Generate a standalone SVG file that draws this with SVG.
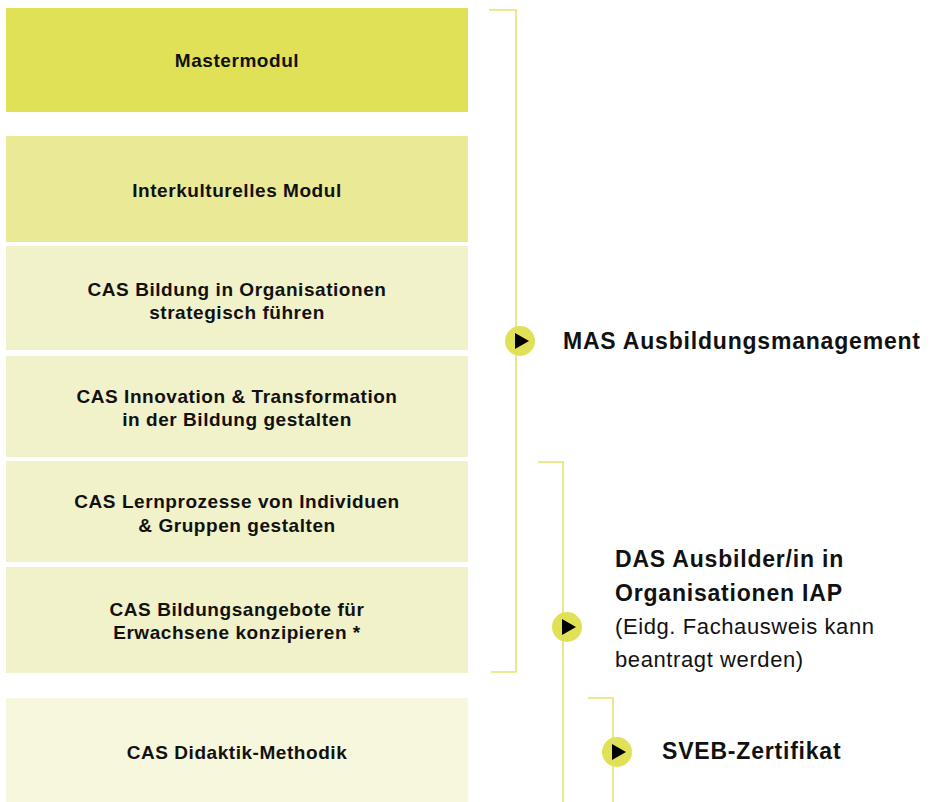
<svg xmlns="http://www.w3.org/2000/svg" width="931" height="802" viewBox="0 0 931 802">
<style>
.b{font-family:"Liberation Sans",Arial,sans-serif;font-weight:bold;font-size:19px;letter-spacing:0.55px;fill:#111;text-anchor:middle}
.r{font-family:"Liberation Sans",Arial,sans-serif;font-weight:bold;font-size:23px;letter-spacing:0.8px;fill:#111}
.rn{font-family:"Liberation Sans",Arial,sans-serif;font-size:22px;letter-spacing:0.6px;fill:#111}
.ln{fill:none;stroke:#e3e36b;stroke-width:1.6}
.dot{fill:#e1e157}
.tri{fill:#000}
</style>
<rect width="931" height="802" fill="#fff"/>
<g id="connectors">
<path class="ln" d="M489 10 H516 V672 H491"/>
<path class="ln" d="M538 462 H563 V802"/>
<path class="ln" d="M588 698 H613 V802"/>
</g>
<g id="mastermodul"><rect x="6" y="8" width="462" height="104" fill="#e1e157"/><text class="b" x="237" y="67">Mastermodul</text></g>
<g id="interkulturell"><rect x="6" y="136" width="462" height="106" fill="#e9e996"/><text class="b" x="237" y="197">Interkulturelles Modul</text></g>
<g id="cas1"><rect x="6" y="246" width="462" height="104" fill="#f1f2ca"/><text class="b" x="237" y="296">CAS Bildung in Organisationen</text><text class="b" x="237" y="319">strategisch führen</text></g>
<g id="cas2"><rect x="6" y="356" width="462" height="101" fill="#f1f2ca"/><text class="b" x="237" y="403">CAS Innovation &amp; Transformation</text><text class="b" x="237" y="426">in der Bildung gestalten</text></g>
<g id="cas3"><rect x="6" y="461" width="462" height="101" fill="#f1f2ca"/><text class="b" x="237" y="508">CAS Lernprozesse von Individuen</text><text class="b" x="237" y="532">&amp; Gruppen gestalten</text></g>
<g id="cas4"><rect x="6" y="567" width="462" height="106" fill="#f1f2ca"/><text class="b" x="237" y="616">CAS Bildungsangebote für</text><text class="b" x="237" y="639">Erwachsene konzipieren *</text></g>
<g id="didaktik"><rect x="6" y="698" width="462" height="104" fill="#f6f7dc"/><text class="b" x="237" y="759">CAS Didaktik-Methodik</text></g>
<g id="mas"><circle class="dot" cx="520" cy="341" r="15"/><path class="tri" d="M515 333 L515 349 L529 341 Z"/><text class="r" x="563" y="349">MAS Ausbildungsmanagement</text></g>
<g id="das"><circle class="dot" cx="567" cy="627" r="15"/><path class="tri" d="M562 619 L562 635 L576 627 Z"/><text class="r" x="615" y="567">DAS Ausbilder/in in</text><text class="r" x="615" y="601">Organisationen IAP</text><text class="rn" x="615" y="634">(Eidg. Fachausweis kann</text><text class="rn" x="615" y="667">beantragt werden)</text></g>
<g id="sveb"><circle class="dot" cx="617" cy="752" r="15"/><path class="tri" d="M612 744 L612 760 L626 752 Z"/><text class="r" x="662" y="759">SVEB-Zertifikat</text></g>
</svg>
